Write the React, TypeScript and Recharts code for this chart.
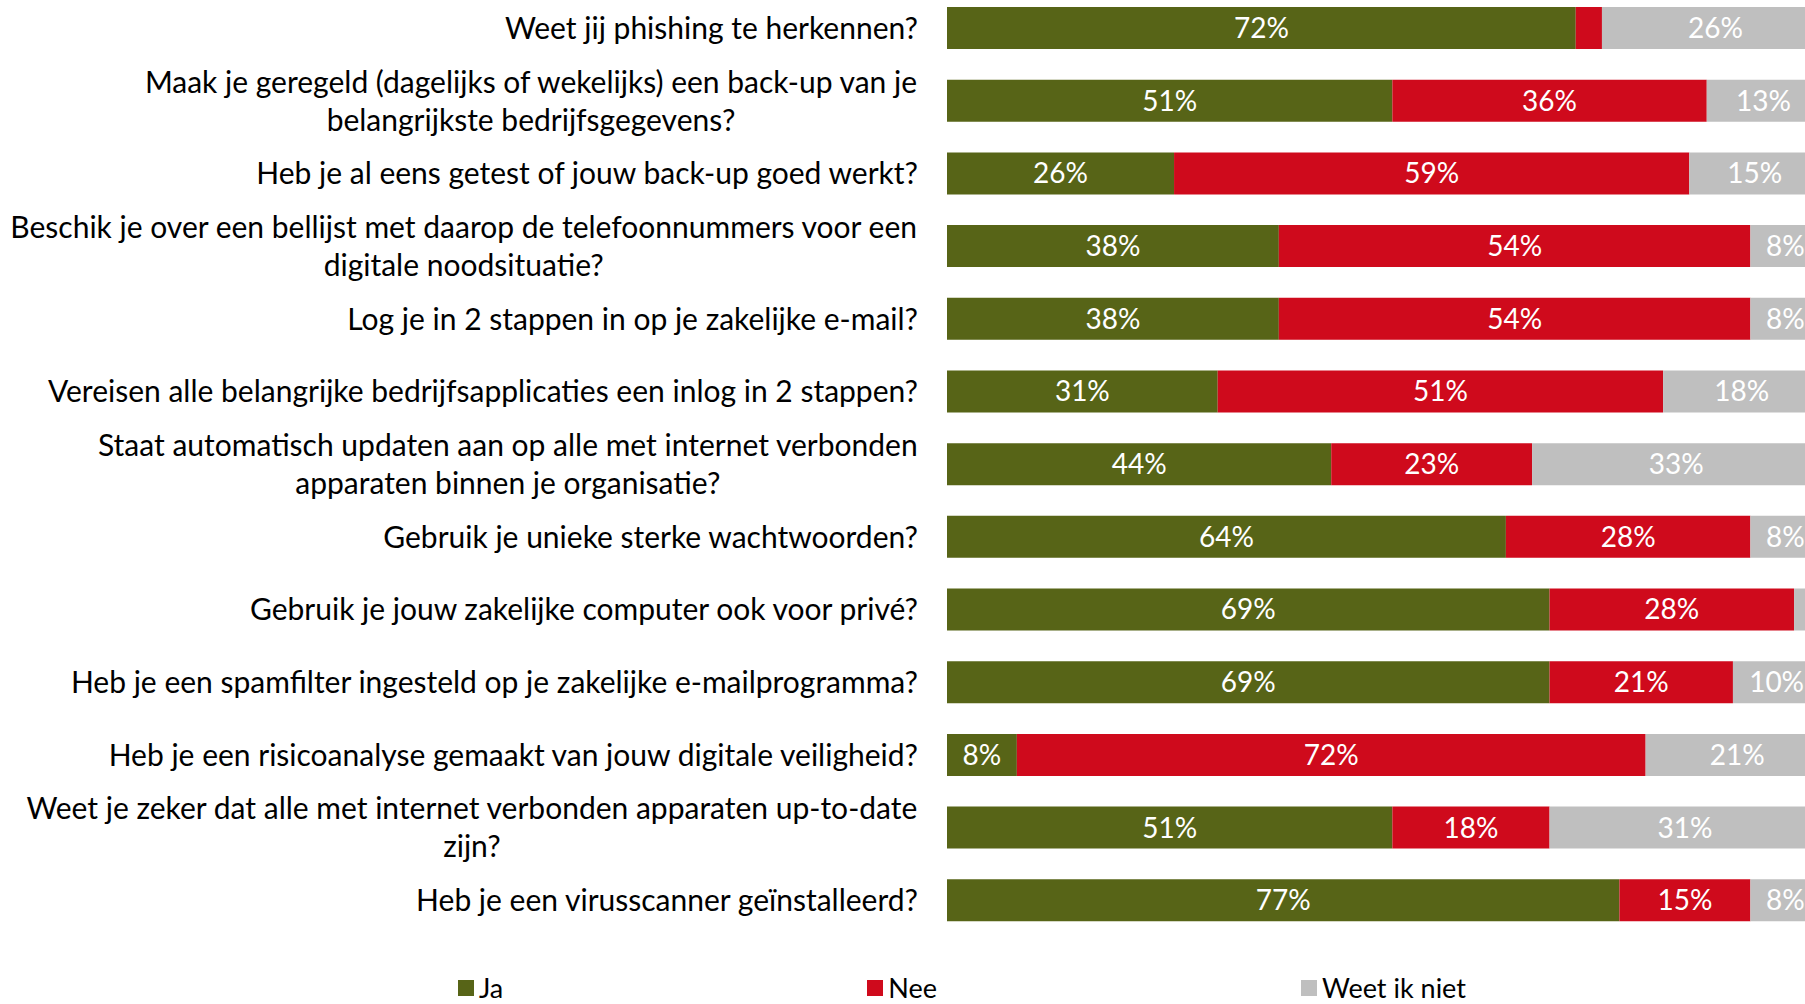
import React from 'react';
import { BarChart, Bar, XAxis, YAxis, Legend, LabelList } from 'recharts';

const questions = [
  'Weet jij phishing te herkennen?',
  'Maak je geregeld (dagelijks of wekelijks) een back-up van je\nbelangrijkste bedrijfsgegevens?',
  'Heb je al eens getest of jouw back-up goed werkt?',
  'Beschik je over een bellijst met daarop de telefoonnummers voor een\ndigitale noodsituatie?',
  'Log je in 2 stappen in op je zakelijke e-mail?',
  'Vereisen alle belangrijke bedrijfsapplicaties een inlog in 2 stappen?',
  'Staat automatisch updaten aan op alle met internet verbonden\napparaten binnen je organisatie?',
  'Gebruik je unieke sterke wachtwoorden?',
  'Gebruik je jouw zakelijke computer ook voor privé?',
  'Heb je een spamfilter ingesteld op je zakelijke e-mailprogramma?',
  'Heb je een risicoanalyse gemaakt van jouw digitale veiligheid?',
  'Weet je zeker dat alle met internet verbonden apparaten up-to-date\nzijn?',
  'Heb je een virusscanner geïnstalleerd?',
];

const jaValues = [72, 51, 26, 38, 38, 31, 44, 64, 69, 69, 8, 51, 77];
const neeValues = [3, 36, 59, 54, 54, 51, 23, 28, 28, 21, 72, 18, 15];
const weetNietValues = [26, 13, 15, 8, 8, 18, 33, 8, 3, 10, 21, 31, 8];

const GREEN = '#576417';
const RED = '#CF0A1C';
const GRAY = '#BFBFBF';
const FONT = 'Lato, sans-serif';
const TICK_SIZE = 30;
const LABEL_SIZE = 28;

const rows = questions.map((question, i) => ({
  question,
  ja: jaValues[i],
  nee: neeValues[i],
  weetNiet: weetNietValues[i],
}));

const measureCtx =
  typeof document !== 'undefined' ? document.createElement('canvas').getContext('2d') : null;

function textWidth(s: string): number {
  if (!measureCtx) return s.length * TICK_SIZE * 0.5;
  measureCtx.font = `${TICK_SIZE}px Lato`;
  return measureCtx.measureText(s).width;
}

function QuestionTick(props: any) {
  const { x, y, payload } = props;
  const lines = String(payload.value).split('\n');
  const lineHeight = 38;
  if (lines.length === 1) {
    return (
      <text x={x} y={y} dy="0.35em" textAnchor="end" fontSize={TICK_SIZE} fontFamily={FONT} fill="#000">
        {lines[0]}
      </text>
    );
  }
  const widest = Math.max(...lines.map(textWidth));
  const cx = x - widest / 2;
  return (
    <text textAnchor="middle" fontSize={TICK_SIZE} fontFamily={FONT} fill="#000">
      {lines.map((line, i) => (
        <tspan key={i} x={cx} y={y + (i - (lines.length - 1) / 2) * lineHeight} dy="0.35em">
          {line}
        </tspan>
      ))}
    </text>
  );
}

const pct = (v: any) => (Number(v) >= 5 ? `${v}%` : '');

function LegendContent({ payload }: any) {
  const items = payload || [];
  return (
    <div
      style={{
        display: 'flex',
        flexWrap: 'nowrap',
        paddingTop: 36,
        paddingLeft: 458,
        fontFamily: FONT,
        fontSize: 27,
        height: 30,
      }}
    >
      {items.map((item: any, i: number) => (
        <div
          key={item.value}
          style={{
            display: 'flex',
            alignItems: 'center',
            flexShrink: 0,
            whiteSpace: 'nowrap',
            marginRight: i < items.length - 1 ? 364 : 0,
            lineHeight: '30px',
          }}
        >
          <span style={{ width: 16, height: 16, background: item.color, marginRight: 5, display: 'inline-block' }} />
          <span style={{ color: '#000' }}>{item.value}</span>
        </div>
      ))}
    </div>
  );
}

export default function App() {
  return (
    <div style={{ position: 'relative', width: 1805, height: 1004, overflow: 'hidden', background: '#fff' }}>
      <style>{'body{margin:0}'}</style>
      <div style={{ position: 'absolute', left: 0, top: -8 }}>
        <BarChart
          width={1829}
          height={1011}
          layout="vertical"
          data={rows}
          barSize={42}
          margin={{ top: 0, right: 0, bottom: 0, left: 0 }}
        >
          <XAxis type="number" domain={[0, 100]} hide />
          <YAxis
            type="category"
            dataKey="question"
            width={947}
            axisLine={false}
            tickLine={false}
            tickSize={0}
            tickMargin={29}
            interval={0}
            tick={<QuestionTick />}
          />
          <Legend verticalAlign="bottom" height={66} content={<LegendContent />} />
          <Bar dataKey="ja" name="Ja" stackId="a" fill={GREEN} isAnimationActive={false}>
            <LabelList dataKey="ja" position="center" fill="#fff" fontSize={LABEL_SIZE} fontFamily={FONT} formatter={pct} />
          </Bar>
          <Bar dataKey="nee" name="Nee" stackId="a" fill={RED} isAnimationActive={false}>
            <LabelList dataKey="nee" position="center" fill="#fff" fontSize={LABEL_SIZE} fontFamily={FONT} formatter={pct} />
          </Bar>
          <Bar dataKey="weetNiet" name="Weet ik niet" stackId="a" fill={GRAY} isAnimationActive={false}>
            <LabelList dataKey="weetNiet" position="center" fill="#fff" fontSize={LABEL_SIZE} fontFamily={FONT} formatter={pct} />
          </Bar>
        </BarChart>
      </div>
    </div>
  );
}
